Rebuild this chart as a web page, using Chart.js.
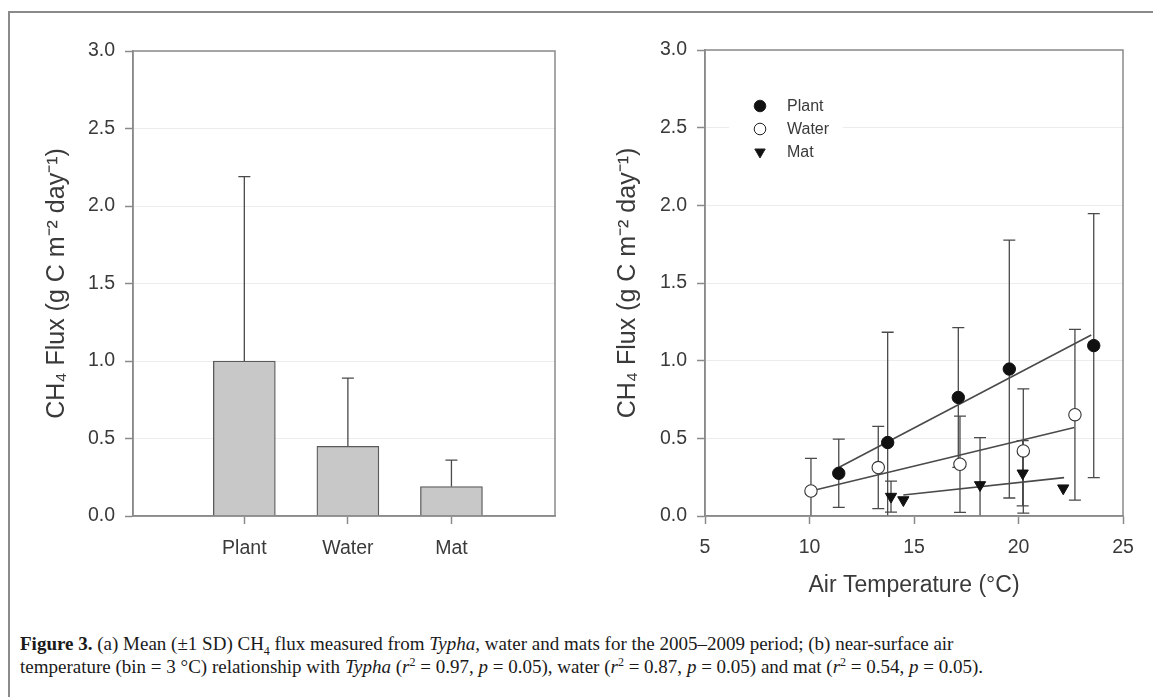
<!DOCTYPE html>
<html>
<head>
<meta charset="utf-8">
<script src="https://cdn.jsdelivr.net/npm/chart.js@4.4.0/dist/chart.umd.min.js"></script>
<style>
html,body{margin:0;padding:0;background:#fff;width:1153px;height:697px;overflow:hidden;}
#frame{position:absolute;left:8px;top:11px;width:1145px;height:690px;border-left:2px solid #8a8a8a;border-top:2px solid #8a8a8a;box-sizing:border-box;}
#w1{position:absolute;left:0;top:0;width:580px;height:620px;}
#w2{position:absolute;left:580px;top:0;width:573px;height:620px;}
#cap{position:absolute;left:20px;top:632px;font-family:"Liberation Serif","Times New Roman",serif;font-size:19px;line-height:23px;color:#1a1a1a;white-space:nowrap;}
#cap sub,#cap sup{font-size:12px;line-height:0;}
</style>
</head>
<body>
<div id="frame"></div>
<div id="w1"><canvas id="c1"></canvas></div>
<div id="w2"><canvas id="c2"></canvas></div>
<div id="cap"><b>Figure 3.</b> (a) Mean (±1 SD) CH<sub>4</sub> flux measured from <i>Typha</i>, water and mats for the 2005–2009 period; (b) near-surface air<br>temperature (bin = 3 °C) relationship with <i>Typha</i> (<i>r</i><sup>2</sup> = 0.97, <i>p</i> = 0.05), water (<i>r</i><sup>2</sup> = 0.87, <i>p</i> = 0.05) and mat (<i>r</i><sup>2</sup> = 0.54, <i>p</i> = 0.05).</div>
<script>
// ---------- data ----------
const barCategories = ['Plant', 'Water', 'Mat'];
const barPositions = [1, 2, 3];
const barMeans = [1.00, 0.45, 0.19];
const barSD = [1.19, 0.44, 0.17];

const fluxTicks = [0, 0.5, 1.0, 1.5, 2.0, 2.5, 3.0];
const tempTicks = [5, 10, 15, 20, 25];

const plantTemp = [11.4, 13.74, 17.12, 19.56, 23.6];
const plantFlux = [0.275, 0.473, 0.763, 0.946, 1.097];
const plantSD = [0.22, 0.71, 0.45, 0.83, 0.85];

const waterTemp = [10.07, 13.29, 17.2, 20.23, 22.7];
const waterFlux = [0.161, 0.312, 0.333, 0.419, 0.652];
const waterSD = [0.21, 0.265, 0.31, 0.40, 0.55];

const matTemp = [13.9, 14.49, 18.16, 20.2, 22.14];
const matFlux = [0.125, 0.103, 0.20, 0.275, 0.179];
const matSD = [0.10, 0, 0.305, 0.21, 0];

const plantFitTemp = [11.4, 23.48];
const plantFitFlux = [0.312, 1.165];
const waterFitTemp = [10.07, 22.67];
const waterFitFlux = [0.161, 0.57];
const matFitTemp = [14.49, 22.18];
const matFitFlux = [0.135, 0.247];

// ---------- styles ----------
const FONT = "'Liberation Sans', Arial, sans-serif";
const TXT = '#3a3a3a';
const AXIS = '#8a8a8a';
const GRID = '#ececec';
const ERR = '#4a4a4a';
const Y_TITLE = 'CH\u2084 Flux (g C m\u207B\u00B2 day\u207B\u00B9)';

const framePlugin = {
  id: 'frame',
  afterDraw(chart) {
    const a = chart.chartArea, ctx = chart.ctx;
    ctx.save();
    ctx.strokeStyle = AXIS; ctx.lineWidth = 1.5;
    ctx.strokeRect(a.left, a.top, a.right - a.left, a.bottom - a.top);
    ctx.restore();
  }
};

function drawErrors(chart, series, lower) {
  const ctx = chart.ctx, xs = chart.scales.x, ys = chart.scales.y;
  ctx.save();
  ctx.strokeStyle = ERR; ctx.lineWidth = 1.3;
  const cap = 6;
  for (const s of series) {
    for (let i = 0; i < s.x.length; i++) {
      const sd = s.sd[i];
      if (!sd) continue;
      const px = xs.getPixelForValue(s.x[i]);
      const py = ys.getPixelForValue(s.y[i]);
      const hiV = s.y[i] + sd;
      const loV = s.y[i] - sd;
      const hi = ys.getPixelForValue(hiV);
      const lo = ys.getPixelForValue(Math.max(0, loV));
      ctx.beginPath();
      ctx.moveTo(px, lower ? lo : py);
      ctx.lineTo(px, hi);
      ctx.moveTo(px - cap, hi); ctx.lineTo(px + cap, hi);
      if (lower && loV > 0) { ctx.moveTo(px - cap, lo); ctx.lineTo(px + cap, lo); }
      ctx.stroke();
    }
  }
  ctx.restore();
}

function yAxis(width, titlePad) {
  return {
    min: 0, max: 3,
    afterBuildTicks: s => { s.ticks = fluxTicks.map(v => ({ value: v })); },
    afterFit: s => { s.width = width; },
    ticks: { callback: v => v.toFixed(1), color: TXT, font: { family: FONT, size: 19.5 }, padding: 10 },
    grid: { color: GRID, lineWidth: 1, tickColor: AXIS, tickLength: 8, tickWidth: 1.5 },
    border: { color: AXIS, width: 1.5 },
    title: { display: true, text: Y_TITLE, color: TXT,
             font: { family: FONT, size: 25 }, padding: { top: titlePad, bottom: titlePad } }
  };
}

// ---------- chart (a) ----------
new Chart(document.getElementById('c1'), {
  type: 'bar',
  data: {
    datasets: [{
      data: barPositions.map((x, i) => ({ x: x, y: barMeans[i] })),
      backgroundColor: '#c8c8c8', borderColor: '#5a5a5a', borderWidth: 1.3,
      barThickness: 62, borderSkipped: 'bottom'
    }]
  },
  options: {
    responsive: true, maintainAspectRatio: false, animation: false,
    layout: { padding: { top: 51, right: 25, left: 0, bottom: 0 } },
    plugins: { legend: { display: false }, tooltip: { enabled: false } },
    scales: {
      x: {
        type: 'linear', min: -0.075, max: 4.0, offset: false,
        afterBuildTicks: s => { s.ticks = barPositions.map(v => ({ value: v })); },
        afterFit: s => { s.height = 104; },
        ticks: { callback: v => barCategories[barPositions.indexOf(v)], color: TXT,
                 font: { family: FONT, size: 19.5 }, padding: 13, maxRotation: 0, autoSkip: false },
        grid: { offset: false, drawOnChartArea: false, tickColor: AXIS, tickLength: 8, tickWidth: 1.5 },
        border: { color: AXIS, width: 1.5 }
      },
      y: yAxis(133, 42)
    }
  },
  plugins: [framePlugin, {
    id: 'errbarsA',
    afterDatasetsDraw(chart) {
      drawErrors(chart, [{ x: barPositions, y: barMeans, sd: barSD }], false);
    }
  }]
});

// ---------- chart (b) ----------
const legendItems = [
  { label: 'Plant', style: 'circle', fill: '#111', rot: 0 },
  { label: 'Water', style: 'circle', fill: '#fff', rot: 0 },
  { label: 'Mat', style: 'triangle', fill: '#111', rot: 180 }
];

const insideLegend = {
  id: 'insideLegend',
  afterDatasetsDraw(chart) {
    const ctx = chart.ctx, a = chart.chartArea;
    const x0 = a.left + 24, y0 = a.top + 40;
    ctx.save();
    ctx.fillStyle = '#fff';
    ctx.fillRect(x0, y0, 114, 76);
    ctx.font = "16px " + FONT;
    ctx.textBaseline = 'middle';
    legendItems.forEach((it, i) => {
      const cy = a.top + 56 + i * 23;
      ctx.fillStyle = it.fill; ctx.strokeStyle = '#222'; ctx.lineWidth = 1;
      Chart.helpers.drawPoint(ctx, { pointStyle: it.style, rotation: it.rot, radius: it.style === 'triangle' ? 6 : 5.8, borderWidth: 1 }, a.left + 55, cy);
      ctx.fillStyle = TXT;
      ctx.fillText(it.label, a.left + 82, cy + 1);
    });
    ctx.restore();
  }
};

function pts(xs, ys) { return xs.map((x, i) => ({ x: x, y: ys[i] })); }
const lineStyle = { type: 'line', borderColor: '#4a4a4a', borderWidth: 1.6, pointRadius: 0, fill: false, order: 10 };

new Chart(document.getElementById('c2'), {
  type: 'scatter',
  data: {
    datasets: [
      { label: 'Plant', data: pts(plantTemp, plantFlux), pointStyle: 'circle', pointRadius: 6.2,
        backgroundColor: '#111', borderColor: '#111', borderWidth: 1, order: 0 },
      { label: 'Water', data: pts(waterTemp, waterFlux), pointStyle: 'circle', pointRadius: 6.2,
        backgroundColor: '#fff', borderColor: '#333', borderWidth: 1.1, order: 0 },
      { label: 'Mat', data: pts(matTemp, matFlux), pointStyle: 'triangle', rotation: 180, pointRadius: 6.5,
        backgroundColor: '#111', borderColor: '#111', borderWidth: 1, order: 0 },
      Object.assign({ data: pts(plantFitTemp, plantFitFlux) }, lineStyle),
      Object.assign({ data: pts(waterFitTemp, waterFitFlux) }, lineStyle),
      Object.assign({ data: pts(matFitTemp, matFitFlux) }, lineStyle)
    ]
  },
  options: {
    responsive: true, maintainAspectRatio: false, animation: false,
    layout: { padding: { top: 50, right: 30, left: 0, bottom: 0 } },
    plugins: { legend: { display: false }, tooltip: { enabled: false } },
    scales: {
      x: {
        type: 'linear', min: 5, max: 25,
        afterBuildTicks: s => { s.ticks = tempTicks.map(v => ({ value: v })); },
        afterFit: s => { s.height = 104; },
        ticks: { color: TXT, font: { family: FONT, size: 19.5 }, padding: 12, maxRotation: 0 },
        grid: { drawOnChartArea: false, tickColor: AXIS, tickLength: 8, tickWidth: 1.5 },
        border: { color: AXIS, width: 1.5 },
        title: { display: true, text: 'Air Temperature (°C)', color: TXT,
                 font: { family: FONT, size: 23 }, padding: { top: 21, bottom: 21 } }
      },
      y: yAxis(125, 33)
    }
  },
  plugins: [framePlugin, {
    id: 'errbarsB',
    beforeDatasetsDraw(chart) {
      drawErrors(chart, [
        { x: plantTemp, y: plantFlux, sd: plantSD },
        { x: waterTemp, y: waterFlux, sd: waterSD },
        { x: matTemp, y: matFlux, sd: matSD }
      ], true);
    }
  }, insideLegend]
});
</script>
</body>
</html>
